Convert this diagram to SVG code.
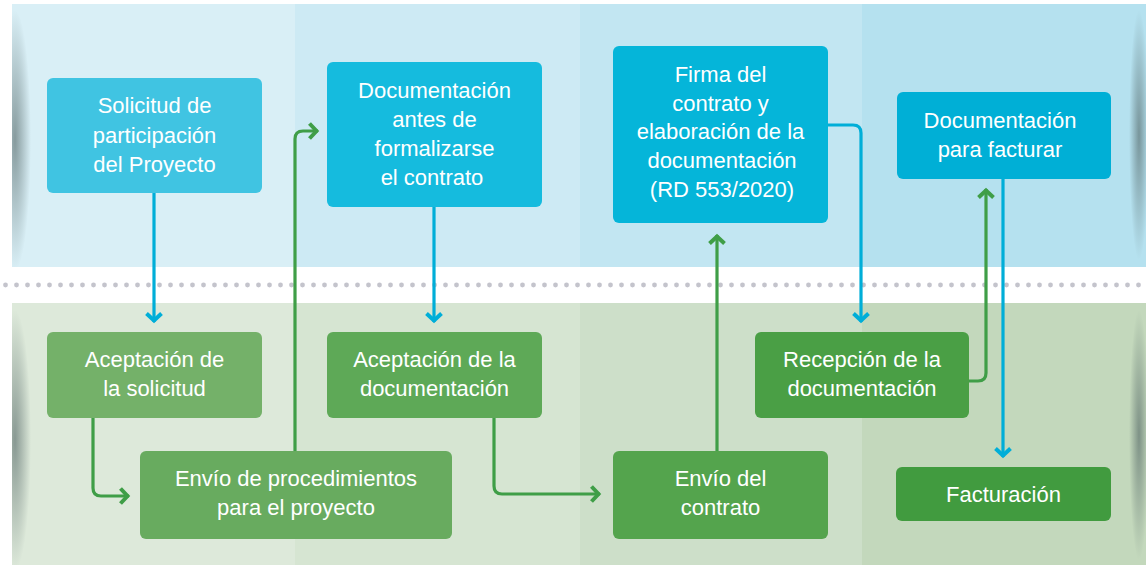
<svg xmlns="http://www.w3.org/2000/svg" width="1146" height="565" viewBox="0 0 1146 565">
<style>
.t{font-family:"Liberation Sans",Arial,sans-serif;font-size:22px;fill:#ffffff;text-anchor:middle}
.cb{fill:none;stroke:#00aed8;stroke-width:3.2}
.cg{fill:none;stroke:#3f9e47;stroke-width:3.2}
</style>
<defs>
<marker id="ab" viewBox="-10 -10 20 20" refX="0" refY="0" markerWidth="20" markerHeight="20" markerUnits="userSpaceOnUse" orient="auto" overflow="visible">
<path d="M-8.5,-7.5 L-1.5,0 L-8.5,7.5" fill="none" stroke="#00aed8" stroke-width="4"/>
</marker>
<marker id="ag" viewBox="-10 -10 20 20" refX="0" refY="0" markerWidth="20" markerHeight="20" markerUnits="userSpaceOnUse" orient="auto" overflow="visible">
<path d="M-8.5,-7.5 L-1.5,0 L-8.5,7.5" fill="none" stroke="#3f9e47" stroke-width="4"/>
</marker>
<radialGradient id="sh" cx="0.5" cy="0.5" r="0.5">
<stop offset="0" stop-color="#4f6262" stop-opacity="0.6"/>
<stop offset="1" stop-color="#4f6262" stop-opacity="0"/>
</radialGradient>
<pattern id="dots" x="3" y="279" width="11" height="12" patternUnits="userSpaceOnUse">
<circle cx="2.5" cy="6" r="2.4" fill="#c4c4cc"/>
</pattern>
<clipPath id="bands">
<rect x="12" y="4" width="1134" height="263"/>
<rect x="12" y="303" width="1134" height="262"/>
</clipPath>
</defs>
<rect width="1146" height="565" fill="#ffffff"/>
<g id="bands-bg">
<rect x="12" y="4" width="283" height="263" fill="#d9eff6"/>
<rect x="295" y="4" width="285" height="263" fill="#cdeaf4"/>
<rect x="580" y="4" width="282" height="263" fill="#c2e6f2"/>
<rect x="862" y="4" width="284" height="263" fill="#b5e1ef"/>
<rect x="12" y="303" width="283" height="262" fill="#dde9da"/>
<rect x="295" y="303" width="285" height="262" fill="#d6e5d2"/>
<rect x="580" y="303" width="282" height="262" fill="#cddfc9"/>
<rect x="862" y="303" width="284" height="262" fill="#c3d8bc"/>
<g clip-path="url(#bands)">
<ellipse cx="15" cy="140" rx="16" ry="130" fill="url(#sh)"/>
<ellipse cx="15" cy="440" rx="16" ry="130" fill="url(#sh)"/>
<ellipse cx="1139" cy="135" rx="10" ry="125" fill="url(#sh)"/>
<ellipse cx="1139" cy="435" rx="10" ry="125" fill="url(#sh)"/>
</g>
<rect x="0" y="279" width="1146" height="12" fill="url(#dots)"/>
</g>
<g id="connectors">
<path class="cb" d="M154,193 V322" marker-end="url(#ab)"/>
<path class="cg" d="M93,418 V488 Q93,496 101,496 H129" marker-end="url(#ag)"/>
<path class="cg" d="M295,451 V139 Q295,131 303,131 H318" marker-end="url(#ag)"/>
<path class="cb" d="M434,207 V322" marker-end="url(#ab)"/>
<path class="cg" d="M494,418 V486 Q494,494 502,494 H600" marker-end="url(#ag)"/>
<path class="cg" d="M717,451 V235" marker-end="url(#ag)"/>
<path class="cb" d="M828,125 H853 Q861,125 861,133 V322" marker-end="url(#ab)"/>
<path class="cg" d="M969,381 H978 Q986,381 986,373 V189" marker-end="url(#ag)"/>
<path class="cb" d="M1003,179 V457" marker-end="url(#ab)"/>
</g>
<g id="n1">
<rect x="47" y="78" width="215" height="115" rx="6" fill="#40c4e2"/>
<text class="t"><tspan x="154.5" y="113">Solicitud de</tspan><tspan x="154.5" y="143">participación</tspan><tspan x="154.5" y="172">del Proyecto</tspan></text>
</g>
<g id="n2">
<rect x="327" y="62" width="215" height="145" rx="6" fill="#15bbde"/>
<text class="t"><tspan x="434.5" y="98">Documentación</tspan><tspan x="434.5" y="127">antes de</tspan><tspan x="434.5" y="156">formalizarse</tspan><tspan x="432" y="185">el contrato</tspan></text>
</g>
<g id="n3">
<rect x="613" y="46" width="215" height="177" rx="6" fill="#05b5d9"/>
<text class="t"><tspan x="720.5" y="82">Firma del</tspan><tspan x="720.5" y="111">contrato y</tspan><tspan x="720.5" y="139">elaboración de la</tspan><tspan x="722" y="168">documentación</tspan><tspan x="722" y="197">(RD 553/2020)</tspan></text>
</g>
<g id="n4">
<rect x="897" y="92" width="214" height="87" rx="6" fill="#00afd6"/>
<text class="t"><tspan x="1000" y="128">Documentación</tspan><tspan x="1000" y="157">para facturar</tspan></text>
</g>
<g id="n5">
<rect x="47" y="332" width="215" height="86" rx="6" fill="#74b169"/>
<text class="t"><tspan x="154.5" y="367">Aceptación de</tspan><tspan x="154.5" y="396">la solicitud</tspan></text>
</g>
<g id="n6">
<rect x="140" y="451" width="312" height="88" rx="6" fill="#68ab5f"/>
<text class="t"><tspan x="296" y="486">Envío de procedimientos</tspan><tspan x="296" y="515">para el proyecto</tspan></text>
</g>
<g id="n7">
<rect x="327" y="332" width="215" height="86" rx="6" fill="#5ea957"/>
<text class="t"><tspan x="434.5" y="367">Aceptación de la</tspan><tspan x="434.5" y="396">documentación</tspan></text>
</g>
<g id="n8">
<rect x="613" y="451" width="215" height="88" rx="6" fill="#54a44d"/>
<text class="t"><tspan x="720.5" y="486">Envío del</tspan><tspan x="720.5" y="515">contrato</tspan></text>
</g>
<g id="n9">
<rect x="755" y="332" width="214" height="86" rx="6" fill="#4a9f45"/>
<text class="t"><tspan x="862" y="367">Recepción de la</tspan><tspan x="862" y="396">documentación</tspan></text>
</g>
<g id="n10">
<rect x="896" y="467" width="215" height="54" rx="6" fill="#419b3f"/>
<text class="t" x="1003.5" y="502">Facturación</text>
</g>
</svg>
